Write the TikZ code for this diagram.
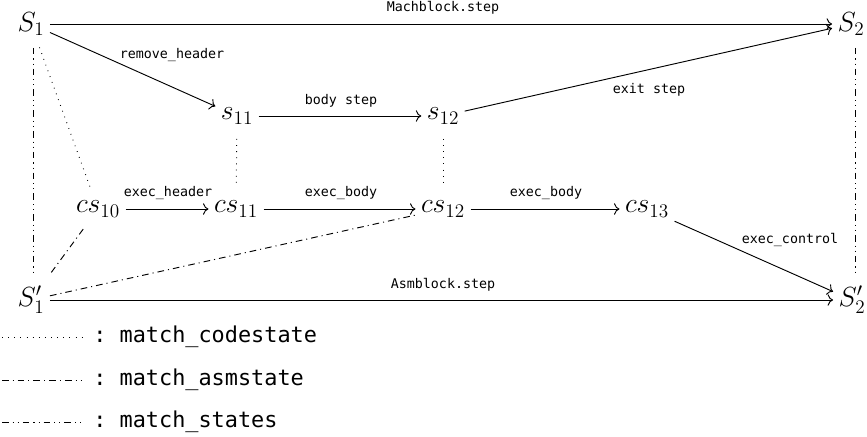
\documentclass[tikz,border=0pt]{standalone}
\usepackage{fontspec}
\setmonofont{DejaVu Sans Mono}
\usetikzlibrary{arrows.meta}
\begin{document}
\begin{tikzpicture}[x=0.75pt,y=-0.75pt,
  st/.style={inner sep=4pt, font=\huge},
  lbl/.style={inner sep=0pt, font=\fontsize{10}{12}\ttfamily},
  leg/.style={inner sep=0pt, anchor=west, font=\fontsize{16.4}{19}\ttfamily},
  arr/.style={-{To[scale=1.3]}, line width=0.7pt},
  mcode/.style={line width=0.7pt, dash pattern=on 0.6pt off 4pt},
  masm/.style={line width=0.7pt, dash pattern=on 5pt off 3pt on 0.8pt off 3pt},
  mst/.style={line width=0.7pt, dash pattern=on 5pt off 3pt on 0.8pt off 3pt on 0.8pt off 3pt},
]
\useasboundingbox (0,0) rectangle (867,436);
% states
\node[st] (S1)   at (31,24)   {$S_1$};
\node[st] (S2)   at (851,24)  {$S_2$};
\node[st] (s11)  at (237,116) {$s_{11}$};
\node[st] (s12)  at (443,116) {$s_{12}$};
\node[st] (cs10) at (98,209)  {$cs_{10}$};
\node[st] (cs11) at (236,209) {$cs_{11}$};
\node[st] (cs12) at (443,209) {$cs_{12}$};
\node[st] (cs13) at (647,209) {$cs_{13}$};
\node[st] (S1p)  at (31,300)  {$S'_1$};
\node[st] (S2p)  at (852,300) {$S'_2$};
% labels
\node[lbl] (lMach) at (443,8)   {Machblock.step};
\node[lbl] (lRem)  at (172,55)  {remove\_header};
\node[lbl] (lBody) at (341,101) {body step};
\node[lbl] (lExit) at (649,90)  {exit step};
\node[lbl] (lHead) at (168,193) {exec\_header};
\node[lbl] (lEB1)  at (341,193) {exec\_body};
\node[lbl] (lEB2)  at (546,193) {exec\_body};
\node[lbl] (lCtl)  at (790,240) {exec\_control};
\node[lbl] (lAsm)  at (443,285) {Asmblock.step};
% transitions
\draw[arr] (S1.east) -- (S2.west);
\draw[arr] (S1) -- (s11);
\draw[arr] (s11) -- (s12);
\draw[arr] (s12) -- (S2);
\draw[arr] (cs10) -- (cs11);
\draw[arr] (cs11) -- (cs12);
\draw[arr] (cs12) -- (cs13);
\draw[arr] (cs13) -- (S2p);
\draw[arr] (S1p.east) -- (S2p.west);
% matchings
\draw[mst, shorten <=5pt, shorten >=5pt] ([xshift=1.5pt]S1.south) -- ([xshift=1.5pt]S1p.north);
\draw[mst, shorten <=5pt, shorten >=5pt] ([xshift=3pt]S2.south) -- ([xshift=3pt]S2.south |- S2p.north);
\draw[mcode, shorten <=5pt, shorten >=7pt] (S1) -- (cs10);
\draw[mcode, shorten <=7pt, shorten >=8pt] (s11) -- (cs11);
\draw[mcode, shorten <=7pt, shorten >=8pt] (s12) -- (cs12);
\draw[masm, shorten <=6pt, shorten >=6pt] (cs10) -- (S1p);
\draw[masm] (S1p) -- (cs12);
% legend
\draw[mcode] (2,337) -- (82,337);
\draw[masm]  (2,380) -- (82,380);
\draw[mst]   (2,422) -- (82,422);
\node[leg] (t1) at (93,337) {: match\_codestate};
\node[leg] (t2) at (93,380) {: match\_asmstate};
\node[leg] (t3) at (93,422) {: match\_states};
\end{tikzpicture}
\end{document}
